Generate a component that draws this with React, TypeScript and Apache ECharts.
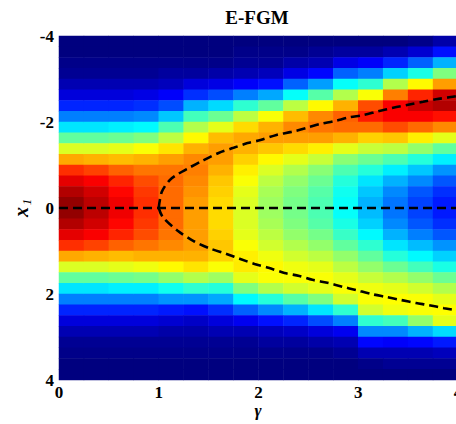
import React, { useEffect, useRef } from "react";
import * as echarts from "echarts";

// gamma bin centres (x direction)
const gammaCenters = [0.125, 0.375, 0.625, 0.875, 1.125, 1.375, 1.625, 1.875, 2.125, 2.375, 2.625, 2.875, 3.125, 3.375, 3.625, 3.875];
// x1 bin centres (top -> bottom)
const x1Centers = [-3.875, -3.625, -3.375, -3.125, -2.875, -2.625, -2.375, -2.125, -1.875, -1.625, -1.375, -1.125, -0.875, -0.625, -0.375, -0.125,
  0.125, 0.375, 0.625, 0.875, 1.125, 1.375, 1.625, 1.875, 2.125, 2.375, 2.625, 2.875, 3.125, 3.375, 3.625, 3.875];

// colour values (0..1) read column by column, x1 from -3.875 to 3.875
const colG0125 = [0, 0, 0.01, 0.02, 0.05, 0.09, 0.16, 0.25, 0.35, 0.47, 0.59, 0.71, 0.83, 0.90, 0.95, 0.98, 0.98, 0.95, 0.90, 0.83, 0.71, 0.59, 0.47, 0.35, 0.25, 0.16, 0.09, 0.05, 0.02, 0.01, 0, 0];
const colG0375 = [0, 0, 0.01, 0.02, 0.05, 0.09, 0.16, 0.25, 0.35, 0.47, 0.59, 0.70, 0.81, 0.88, 0.92, 0.94, 0.94, 0.92, 0.88, 0.81, 0.70, 0.59, 0.47, 0.35, 0.25, 0.16, 0.09, 0.05, 0.02, 0.01, 0, 0];
const colG0625 = [0, 0, 0.01, 0.02, 0.05, 0.09, 0.16, 0.25, 0.36, 0.48, 0.60, 0.69, 0.78, 0.84, 0.87, 0.89, 0.89, 0.87, 0.84, 0.78, 0.69, 0.60, 0.48, 0.36, 0.25, 0.16, 0.09, 0.05, 0.02, 0.01, 0, 0];
const colG0875 = [0, 0, 0.01, 0.02, 0.05, 0.10, 0.17, 0.26, 0.37, 0.50, 0.62, 0.70, 0.76, 0.80, 0.82, 0.83, 0.83, 0.82, 0.80, 0.76, 0.70, 0.61, 0.49, 0.36, 0.25, 0.16, 0.09, 0.05, 0.02, 0.01, 0, 0];
const colG1125 = [0, 0, 0.01, 0.03, 0.06, 0.12, 0.20, 0.32, 0.45, 0.56, 0.65, 0.72, 0.76, 0.77, 0.77, 0.77, 0.77, 0.77, 0.76, 0.74, 0.70, 0.63, 0.52, 0.39, 0.27, 0.15, 0.08, 0.04, 0.02, 0.01, 0, 0];
const colG1375 = [0, 0, 0.01, 0.03, 0.09, 0.17, 0.30, 0.44, 0.55, 0.63, 0.70, 0.74, 0.75, 0.74, 0.73, 0.72, 0.72, 0.72, 0.72, 0.72, 0.70, 0.65, 0.55, 0.42, 0.27, 0.14, 0.07, 0.04, 0.02, 0.01, 0, 0];
const colG1625 = [0, 0, 0.01, 0.04, 0.10, 0.20, 0.34, 0.48, 0.60, 0.69, 0.72, 0.72, 0.70, 0.68, 0.67, 0.66, 0.66, 0.66, 0.67, 0.68, 0.67, 0.62, 0.53, 0.41, 0.29, 0.17, 0.09, 0.05, 0.02, 0.01, 0, 0];
const colG1875 = [0, 0.01, 0.02, 0.05, 0.12, 0.25, 0.42, 0.56, 0.66, 0.71, 0.70, 0.67, 0.64, 0.62, 0.60, 0.59, 0.59, 0.59, 0.60, 0.62, 0.64, 0.645, 0.60, 0.50, 0.37, 0.22, 0.11, 0.05, 0.02, 0.01, 0, 0];
const colG2125 = [0, 0.01, 0.02, 0.06, 0.14, 0.29, 0.47, 0.62, 0.70, 0.72, 0.68, 0.63, 0.59, 0.56, 0.54, 0.53, 0.53, 0.54, 0.56, 0.58, 0.61, 0.63, 0.62, 0.55, 0.41, 0.26, 0.14, 0.06, 0.03, 0.01, 0, 0];
const colG2375 = [0, 0.01, 0.04, 0.10, 0.22, 0.38, 0.56, 0.69, 0.74, 0.72, 0.66, 0.60, 0.55, 0.52, 0.50, 0.49, 0.49, 0.50, 0.52, 0.55, 0.58, 0.61, 0.62, 0.58, 0.46, 0.30, 0.16, 0.07, 0.03, 0.01, 0, 0];
const colG2625 = [0, 0.02, 0.05, 0.13, 0.28, 0.46, 0.63, 0.74, 0.76, 0.72, 0.64, 0.57, 0.51, 0.48, 0.46, 0.45, 0.45, 0.46, 0.49, 0.52, 0.56, 0.60, 0.62, 0.60, 0.50, 0.35, 0.20, 0.09, 0.04, 0.01, 0, 0];
const colG2875 = [0, 0.03, 0.10, 0.22, 0.38, 0.55, 0.70, 0.78, 0.77, 0.70, 0.60, 0.51, 0.45, 0.41, 0.39, 0.38, 0.38, 0.40, 0.43, 0.47, 0.52, 0.56, 0.60, 0.62, 0.58, 0.42, 0.25, 0.11, 0.05, 0.02, 0, 0];
const colG3125 = [0, 0.03, 0.12, 0.25, 0.42, 0.62, 0.80, 0.85, 0.77, 0.67, 0.57, 0.48, 0.41, 0.35, 0.32, 0.30, 0.31, 0.33, 0.37, 0.42, 0.47, 0.52, 0.57, 0.61, 0.62, 0.58, 0.42, 0.26, 0.13, 0.05, 0.01, 0];
const colG3375 = [0, 0.05, 0.16, 0.33, 0.55, 0.75, 0.88, 0.88, 0.80, 0.68, 0.56, 0.45, 0.36, 0.30, 0.26, 0.24, 0.24, 0.26, 0.30, 0.35, 0.41, 0.48, 0.55, 0.60, 0.625, 0.61, 0.44, 0.26, 0.12, 0.05, 0.02, 0];
const colG3625 = [0.01, 0.08, 0.22, 0.40, 0.63, 0.84, 0.93, 0.88, 0.77, 0.64, 0.52, 0.41, 0.32, 0.26, 0.21, 0.19, 0.19, 0.21, 0.25, 0.31, 0.37, 0.44, 0.52, 0.58, 0.62, 0.62, 0.52, 0.30, 0.13, 0.05, 0.02, 0];
const colG3875 = [0.04, 0.14, 0.30, 0.50, 0.72, 0.92, 0.95, 0.86, 0.74, 0.60, 0.47, 0.36, 0.27, 0.21, 0.17, 0.15, 0.15, 0.17, 0.21, 0.27, 0.33, 0.40, 0.48, 0.55, 0.60, 0.625, 0.60, 0.34, 0.15, 0.06, 0.02, 0];

const columns = [colG0125, colG0375, colG0625, colG0875, colG1125, colG1375, colG1625, colG1875,
  colG2125, colG2375, colG2625, colG2875, colG3125, colG3375, colG3625, colG3875];

// dashed curves [gamma, x1]
const centerBranch = [[0, 0], [4, 0]];
const upperBranch = [[1, 0], [1.03, -0.37], [1.11, -0.65], [1.2, -0.8], [1.3, -0.93], [1.43, -1.09], [1.6, -1.28], [1.75, -1.4], [1.89, -1.51], [2.02, -1.58], [2.18, -1.7], [2.33, -1.77], [2.48, -1.86], [2.61, -1.95], [2.76, -2.02], [2.91, -2.11], [3.05, -2.16], [3.2, -2.25], [3.35, -2.33], [3.5, -2.4], [3.65, -2.47], [3.78, -2.53], [3.93, -2.58], [4, -2.61]];
const lowerBranch = [[1, 0], [1.04, 0.21], [1.19, 0.53], [1.35, 0.77], [1.5, 0.93], [1.68, 1.07], [1.81, 1.18], [1.96, 1.3], [2.1, 1.39], [2.26, 1.51], [2.41, 1.58], [2.54, 1.67], [2.69, 1.74], [2.84, 1.83], [2.98, 1.91], [3.13, 2.0], [3.28, 2.07], [3.43, 2.14], [3.58, 2.21], [3.71, 2.26], [3.86, 2.33], [4, 2.38]];

const jet = ["#00007F", "#0000FF", "#007FFF", "#00FFFF", "#7FFF7F", "#FFFF00", "#FF7F00", "#FF0000", "#7F0000"];
const FONT = "Liberation Serif";

export default function App() {
  const ref = useRef<HTMLDivElement>(null);
  useEffect(() => {
    if (!ref.current) return;
    const chart = echarts.init(ref.current, undefined, { renderer: "svg" });
    const heat: number[][] = [];
    columns.forEach((col, i) => col.forEach((v, j) => heat.push([i, j, v])));
    const dashed = { color: "#000", width: 2.6, type: [9, 5] as any };
    chart.setOption({
      animation: false,
      grid: { left: 59, top: 36, width: 399, height: 344, containLabel: false, outerBoundsMode: "none" },
      xAxis: [
        { type: "category", data: gammaCenters.map(String), show: false, gridIndex: 0, position: "top" },
        {
          type: "value", min: 0, max: 4, interval: 1, position: "bottom",
          axisLine: { show: false }, axisTick: { show: false }, splitLine: { show: false },
          axisLabel: { fontFamily: FONT, fontWeight: "bold", fontSize: 17, color: "#000", margin: 4 },
        },
      ],
      yAxis: [
        { type: "category", data: x1Centers.map(String), inverse: true, show: false, position: "right" },
        {
          type: "value", min: -4, max: 4, interval: 2, inverse: true, position: "left",
          axisLine: { show: false }, axisTick: { show: false }, splitLine: { show: false },
          axisLabel: { fontFamily: FONT, fontWeight: "bold", fontSize: 17, color: "#000", margin: 5 },
        },
      ],
      visualMap: { type: "continuous", min: 0, max: 1, show: false, seriesIndex: 0, inRange: { color: jet } },
      series: [
        { type: "heatmap", xAxisIndex: 0, yAxisIndex: 0, data: heat, emphasis: { disabled: true } },
        { type: "line", xAxisIndex: 1, yAxisIndex: 1, data: centerBranch, symbol: "none", lineStyle: dashed },
        { type: "line", xAxisIndex: 1, yAxisIndex: 1, data: upperBranch, symbol: "none", smooth: 0.3, lineStyle: dashed },
        { type: "line", xAxisIndex: 1, yAxisIndex: 1, data: lowerBranch, symbol: "none", smooth: 0.3, lineStyle: dashed },
      ],
      graphic: [
        {
          type: "text", x: 257, y: 17,
          style: { text: "E-FGM", fontFamily: FONT, fontWeight: "bold", fontSize: 19, fill: "#000", align: "center", verticalAlign: "middle", textAlign: "center", textVerticalAlign: "middle" },
        },
        {
          type: "text", x: 258, y: 410,
          style: { text: "γ", fontFamily: FONT, fontWeight: "bold", fontStyle: "italic", fontSize: 17, fill: "#000", align: "center", verticalAlign: "middle", textAlign: "center", textVerticalAlign: "middle" },
        },
        {
          type: "group", x: 21, y: 208, rotation: Math.PI / 2,
          children: [
            { type: "text", x: -4, y: 0, style: { text: "x", fontFamily: FONT, fontWeight: "bold", fontStyle: "italic", fontSize: 20, fill: "#000", align: "center", verticalAlign: "middle", textAlign: "center", textVerticalAlign: "middle" } },
            { type: "text", x: 6, y: 5, style: { text: "1", fontFamily: FONT, fontStyle: "italic", fontSize: 13, fill: "#000", align: "center", verticalAlign: "middle", textAlign: "center", textVerticalAlign: "middle" } },
          ],
        },
      ],
    });
    return () => chart.dispose();
  }, []);
  return <div ref={ref} style={{ position: "absolute", left: 0, top: 0, width: 456, height: 424 }} />;
}
